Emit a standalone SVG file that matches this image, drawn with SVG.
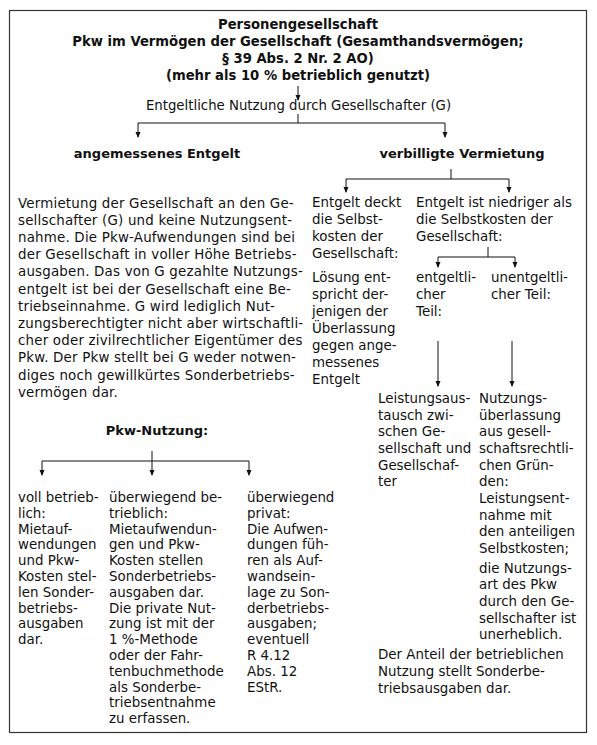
<svg xmlns="http://www.w3.org/2000/svg" width="597" height="745" viewBox="0 0 597 745">
<style>
text{font-family:"DejaVu Sans",Verdana,sans-serif;fill:#111;font-size:13.4px}
.p{letter-spacing:0.2px}
.b{font-weight:bold;font-size:13px}
.h{font-weight:bold;font-size:13.2px}
.t{font-size:13.3px}
.c{text-anchor:middle}
.ln{fill:none;stroke:#111;stroke-width:1}
.ar{fill:none;stroke:#111;stroke-width:1;marker-end:url(#ah)}
</style>
<defs>
<marker id="ah" markerUnits="userSpaceOnUse" markerWidth="6" markerHeight="7" refX="5" refY="3" orient="auto" viewBox="0 0 6 6">
<path d="M0,0.5 L6,3 L0,5.5 z" fill="#111"/>
</marker>
</defs>
<rect x="9.5" y="10.5" width="577" height="722" fill="#fff" stroke="#333" stroke-width="1.2"/>
<g id="title">
<text class="h c" x="298"><tspan x="298" y="29">Personengesellschaft</tspan><tspan x="298" y="46">Pkw im Vermögen der Gesellschaft (Gesamthandsvermögen;</tspan><tspan x="298" y="63">§ 39 Abs. 2 Nr. 2 AO)</tspan><tspan x="298" y="80">(mehr als 10 % betrieblich genutzt)</tspan></text>
</g>
<g id="nutzung">
<text class="t c" x="298.5" y="110">Entgeltliche Nutzung durch Gesellschafter (G)</text>
</g>
<g id="angemessen">
<text class="b c" x="157" y="158">angemessenes Entgelt</text>
<text class="p" x="18"><tspan x="18" y="207.5">Vermietung der Gesellschaft an den Ge-</tspan><tspan x="18" y="224.7">sellschafter (G) und keine Nutzungsent-</tspan><tspan x="18" y="241.9">nahme. Die Pkw-Aufwendungen sind bei</tspan><tspan x="18" y="259.1">der Gesellschaft in voller Höhe Betriebs-</tspan><tspan x="18" y="276.3">ausgaben. Das von G gezahlte Nutzungs-</tspan><tspan x="18" y="293.5">entgelt ist bei der Gesellschaft eine Be-</tspan><tspan x="18" y="310.7">triebseinnahme. G wird lediglich Nut-</tspan><tspan x="18" y="327.9">zungsberechtigter nicht aber wirtschaftli-</tspan><tspan x="18" y="345.1">cher oder zivilrechtlicher Eigentümer des</tspan><tspan x="18" y="362.3">Pkw. Der Pkw stellt bei G weder notwen-</tspan><tspan x="18" y="379.5">diges noch gewillkürtes Sonderbetriebs-</tspan><tspan x="18" y="396.7">vermögen dar.</tspan></text>
</g>
<g id="verbilligt">
<text class="b c" x="462" y="158">verbilligte Vermietung</text>
</g>
<g id="deckt">
<text x="312"><tspan x="312" y="207">Entgelt deckt</tspan><tspan x="312" y="224">die Selbst-</tspan><tspan x="312" y="241">kosten der</tspan><tspan x="312" y="258">Gesellschaft:</tspan></text>
<text x="312"><tspan x="312" y="281.5">Lösung ent-</tspan><tspan x="312" y="298.5">spricht der-</tspan><tspan x="312" y="315.5">jenigen der</tspan><tspan x="312" y="332.5">Überlassung</tspan><tspan x="312" y="349.5">gegen ange-</tspan><tspan x="312" y="366.5">messenes</tspan><tspan x="312" y="383.5">Entgelt</tspan></text>
</g>
<g id="niedriger">
<text x="416"><tspan x="416" y="207">Entgelt ist niedriger als</tspan><tspan x="416" y="224">die Selbstkosten der</tspan><tspan x="416" y="241">Gesellschaft:</tspan></text>
</g>
<g id="entgeltlich">
<text x="416"><tspan x="416" y="281.5">entgeltli-</tspan><tspan x="416" y="298.5">cher</tspan><tspan x="416" y="315.5">Teil:</tspan></text>
<text x="378"><tspan x="378" y="403">Leistungsaus-</tspan><tspan x="378" y="419.7">tausch zwi-</tspan><tspan x="378" y="436.3">schen Ge-</tspan><tspan x="378" y="453">sellschaft und</tspan><tspan x="378" y="469.7">Gesellschaf-</tspan><tspan x="378" y="486.3">ter</tspan></text>
</g>
<g id="unentgeltlich">
<text x="491"><tspan x="491" y="281.5">unentgeltli-</tspan><tspan x="491" y="298.5">cher Teil:</tspan></text>
<text x="479"><tspan x="479" y="403">Nutzungs-</tspan><tspan x="479" y="419.7">überlassung</tspan><tspan x="479" y="436.3">aus gesell-</tspan><tspan x="479" y="453">schaftsrechtli-</tspan><tspan x="479" y="469.7">chen Grün-</tspan><tspan x="479" y="486.3">den:</tspan><tspan x="479" y="503">Leistungsent-</tspan><tspan x="479" y="519.7">nahme mit</tspan><tspan x="479" y="536.3">den anteiligen</tspan><tspan x="479" y="553">Selbstkosten;</tspan></text>
<text x="479"><tspan x="479" y="572.5">die Nutzungs-</tspan><tspan x="479" y="589.2">art des Pkw</tspan><tspan x="479" y="605.8">durch den Ge-</tspan><tspan x="479" y="622.5">sellschafter ist</tspan><tspan x="479" y="639.2">unerheblich.</tspan></text>
</g>
<g id="anteil">
<text x="378"><tspan x="378" y="659">Der Anteil der betrieblichen</tspan><tspan x="378" y="676">Nutzung stellt Sonderbe-</tspan><tspan x="378" y="693">triebsausgaben dar.</tspan></text>
</g>
<g id="pkwnutzung">
<text class="b c" x="157" y="435">Pkw-Nutzung:</text>
</g>
<g id="voll">
<text x="18"><tspan x="18" y="502">voll betrieb-</tspan><tspan x="18" y="517.8">lich:</tspan><tspan x="18" y="533.6">Mietauf-</tspan><tspan x="18" y="549.4">wendungen</tspan><tspan x="18" y="565.2">und Pkw-</tspan><tspan x="18" y="581">Kosten stel-</tspan><tspan x="18" y="596.8">len Sonder-</tspan><tspan x="18" y="612.6">betriebs-</tspan><tspan x="18" y="628.4">ausgaben</tspan><tspan x="18" y="644.2">dar.</tspan></text>
</g>
<g id="ueberwiegend-betrieblich">
<text x="109"><tspan x="109" y="502">überwiegend be-</tspan><tspan x="109" y="517.8">trieblich:</tspan><tspan x="109" y="533.6">Mietaufwendun-</tspan><tspan x="109" y="549.4">gen und Pkw-</tspan><tspan x="109" y="565.2">Kosten stellen</tspan><tspan x="109" y="581">Sonderbetriebs-</tspan><tspan x="109" y="596.8">ausgaben dar.</tspan><tspan x="109" y="612.6">Die private Nut-</tspan><tspan x="109" y="628.4">zung ist mit der</tspan><tspan x="109" y="644.2">1 %-Methode</tspan><tspan x="109" y="660">oder der Fahr-</tspan><tspan x="109" y="675.8">tenbuchmethode</tspan><tspan x="109" y="691.6">als Sonderbe-</tspan><tspan x="109" y="707.4">triebsentnahme</tspan><tspan x="109" y="723.2">zu erfassen.</tspan></text>
</g>
<g id="ueberwiegend-privat">
<text x="247"><tspan x="247" y="502">überwiegend</tspan><tspan x="247" y="517.8">privat:</tspan><tspan x="247" y="533.6">Die Aufwen-</tspan><tspan x="247" y="549.4">dungen füh-</tspan><tspan x="247" y="565.2">ren als Auf-</tspan><tspan x="247" y="581">wandsein-</tspan><tspan x="247" y="596.8">lage zu Son-</tspan><tspan x="247" y="612.6">derbetriebs-</tspan><tspan x="247" y="628.4">ausgaben;</tspan><tspan x="247" y="644.2">eventuell</tspan><tspan x="247" y="660">R 4.12</tspan><tspan x="247" y="675.8">Abs. 12</tspan><tspan x="247" y="691.6">EStR.</tspan></text>
</g>
<g id="connectors">
<path class="ar" d="M298,86 V100"/>
<path class="ln" d="M298,114 V123 M138,123 H445"/>
<path class="ar" d="M138,123 V137"/>
<path class="ar" d="M445,123 V137"/>
<path class="ln" d="M451,169 V179 M346,179 H509"/>
<path class="ar" d="M346,179 V192"/>
<path class="ar" d="M509,179 V192"/>
<path class="ln" d="M488,247 V257 M438,257 H515"/>
<path class="ar" d="M438,257 V267"/>
<path class="ar" d="M515,257 V267"/>
<path class="ar" d="M438,341 V386"/>
<path class="ar" d="M512,341 V386"/>
<path class="ln" d="M152,451 V461 M42,461 H249"/>
<path class="ar" d="M42,461 V475"/>
<path class="ar" d="M152,461 V475"/>
<path class="ar" d="M249,461 V475"/>
</g>
</svg>
